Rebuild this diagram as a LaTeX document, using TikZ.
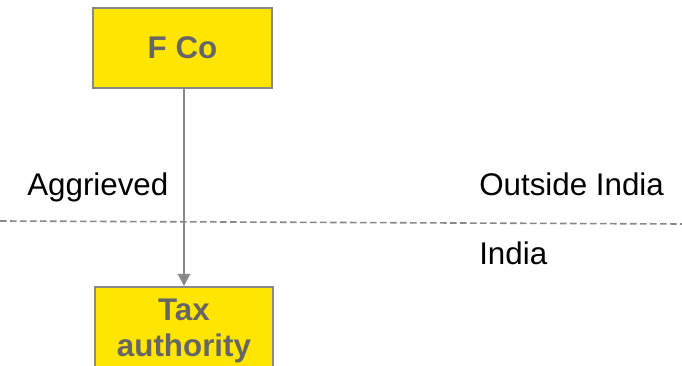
\documentclass[tikz,border=0pt]{standalone}
\usepackage{fontspec}
\setmainfont{Liberation Sans}
\usetikzlibrary{arrows.meta}
\usetikzlibrary{positioning}

\definecolor{boxfill}{HTML}{FFE500}
\definecolor{boxline}{HTML}{888888}
\definecolor{boxtext}{HTML}{666666}

\begin{document}
\begin{tikzpicture}[x=0.75pt, y=-0.75pt,
  entity/.style={draw=boxline, line width=1.5pt, fill=boxfill,
    minimum width=134pt, minimum height=60pt, inner sep=0pt,
    text=boxtext, align=center,
    font=\fontsize{23.5}{27}\selectfont\bfseries},
  side/.style={anchor=base west, inner sep=0pt,
    font=\fontsize{23.5}{27}\selectfont},
  flow/.style={draw=boxline, line width=1.5pt,
    -{Triangle[length=9pt, width=9pt]}},
  border/.style={draw=boxline, line width=1.2pt,
    dash pattern=on 5pt off 2.5pt}]
\useasboundingbox (0,0) rectangle (682,366);

\node[entity] (fco) at (182.5,48) {F Co};
% box runs off the bottom edge
\node[entity, minimum height=66pt] (tax) at (184,331) {Tax\\authority};

\coordinate (west) at (0,221);
\coordinate (east) at (682,224);
\draw[border] (west) -- (east);

\draw[flow] (fco.south -| tax.north) -- (tax.north);

\node[side] (aggrieved) at (27,196) {Aggrieved};
\node[side] (outside) at (479,196) {Outside India};
\node[side] (india) at (479,265) {India};
\end{tikzpicture}
\end{document}
